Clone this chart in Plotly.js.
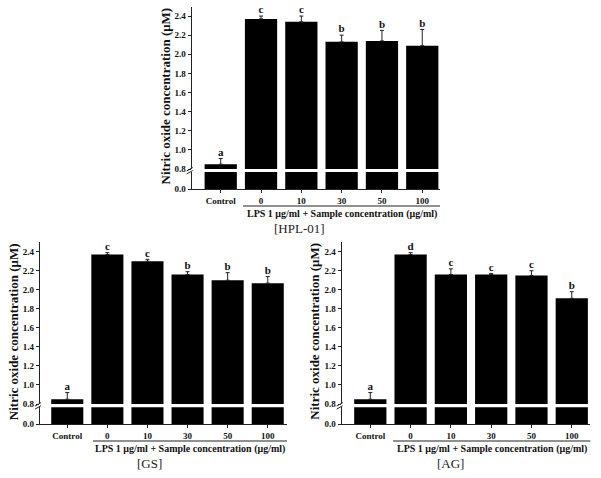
<!DOCTYPE html>
<html><head><meta charset="utf-8">
<script src="https://cdn.plot.ly/plotly-3.0.1.min.js"></script>
<style>html,body{margin:0;padding:0;background:#fff}#c{width:601px;height:478px}</style>
</head><body><div id="c"></div>
<script>
const categories = ['Control','0','10','30','50','100'];
const hplMean = [0.85, 2.37, 2.34, 2.13, 2.14, 2.09];
const hplErr  = [0.06, 0.03, 0.06, 0.07, 0.11, 0.17];
const hplLetters = ['a','c','c','b','b','b'];
const gsMean = [0.85, 2.37, 2.30, 2.16, 2.10, 2.07];
const gsErr  = [0.07, 0.02, 0.02, 0.03, 0.08, 0.07];
const gsLetters = ['a','c','c','b','b','b'];
const agMean = [0.85, 2.37, 2.16, 2.16, 2.15, 1.91];
const agErr  = [0.07, 0.02, 0.06, 0.01, 0.05, 0.07];
const agLetters = ['a','d','c','c','c','b'];
const panelLabels = ['[HPL-01]','[GS]','[AG]'];
const yTitle = 'Nitric oxide concentration (\u03bcM)';
const xGroupTitle = 'LPS 1 \u03bcg/ml + Sample concentration (\u03bcg/ml)';
const upperTicks = [0.8,1.0,1.2,1.4,1.6,1.8,2.0,2.2,2.4];

const W = 601, H = 478;
const px = v => v / W, py = v => 1 - v / H;
const SERIF = 'Liberation Serif, Times New Roman, serif';
const tf = {family: SERIF, size: 9, color: '#111', weight: 'bold'};

// panel geometry in pixels
const panels = [
  {mean: hplMean, err: hplErr, letters: hplLetters, label: panelLabels[0],
   x0: 191.7, x1: 440, yTop: 6.5, yBrkU: 169, yBrkL: 172, yBot: 189, r0: -0.72, r1: 5.44,
   titleX: 165, titleY: 96.5, lineY: 206, lineX0: 243, lpsY: 214.3, labelX: 299, labelY: 228.3},
  {mean: gsMean, err: gsErr, letters: gsLetters, label: panelLabels[1],
   x0: 40, x1: 287, yTop: 242.2, yBrkU: 404, yBrkL: 407.3, yBot: 424, r0: -0.68, r1: 5.48,
   titleX: 13.5, titleY: 331.7, lineY: 441, lineX0: 93, lpsY: 449.3, labelX: 149.5, labelY: 463.5},
  {mean: agMean, err: agErr, letters: agLetters, label: panelLabels[2],
   x0: 341.7, x1: 590.3, yTop: 242.2, yBrkU: 404, yBrkL: 407.3, yBot: 424, r0: -0.71, r1: 5.46,
   titleX: 315, titleY: 331.7, lineY: 441, lineX0: 393, lpsY: 449.3, labelX: 450, labelY: 463.5}
];

const data = [];
const layout = {
  width: W, height: H, margin: {l:0, r:0, t:0, b:0},
  paper_bgcolor: '#fff', plot_bgcolor: 'rgba(0,0,0,0)',
  showlegend: false, bargap: 0.2,
  annotations: [], shapes: []
};

panels.forEach((p, i) => {
  const xs = i === 0 ? '' : String(i + 1);
  const yu = String(2 * i + 1), yl = String(2 * i + 2);
  const xName = 'x' + xs, yuName = 'y' + (yu === '1' ? '' : yu), ylName = 'y' + yl;
  const xKey = 'xaxis' + xs, yuKey = 'yaxis' + (yu === '1' ? '' : yu), ylKey = 'yaxis' + yl;

  data.push({type: 'bar', x: categories, y: p.mean, xaxis: xName, yaxis: yuName,
    marker: {color: '#000', line: {width: 0}}, width: 0.8,
    error_y: {type: 'data', array: p.err, arrayminus: p.err.map(() => 0), symmetric: false,
      color: '#222', thickness: 1, width: 2}, hoverinfo: 'skip'});
  data.push({type: 'bar', x: categories, y: p.mean, xaxis: xName, yaxis: ylName,
    marker: {color: '#000', line: {width: 0}}, width: 0.8, hoverinfo: 'skip'});
  data.push({type: 'scatter', mode: 'text', x: categories, y: p.mean.map((m, k) => m + p.err[k]),
    text: p.letters, textposition: 'top center', cliponaxis: false,
    textfont: {family: SERIF, size: 11, color: '#111', weight: 'bold'},
    xaxis: xName, yaxis: yuName, hoverinfo: 'skip'});

  layout[xKey] = {type: 'category', domain: [px(p.x0), px(p.x1)], range: [p.r0, p.r1],
    anchor: ylName, showline: true, linecolor: '#222', linewidth: 1.2,
    ticks: 'outside', ticklen: 3, tickcolor: '#222', tickfont: tf, showgrid: false, zeroline: false,
    fixedrange: true};
  layout[yuKey] = {domain: [py(p.yBrkU), py(p.yTop)], range: [0.8, 2.5], anchor: xName,
    tickvals: upperTicks, tickformat: '.1f', showline: true, linecolor: '#222', linewidth: 1.2,
    ticks: 'outside', ticklen: 3, tickcolor: '#222', tickfont: tf, showgrid: false, zeroline: false,
    fixedrange: true};
  layout[ylKey] = {domain: [py(p.yBot), py(p.yBrkL)], range: [0, 0.78], anchor: xName,
    tickvals: [0], tickformat: '.1f', showline: true, linecolor: '#222', linewidth: 1.2,
    ticks: 'outside', ticklen: 3, tickcolor: '#222', tickfont: tf, showgrid: false, zeroline: false,
    fixedrange: true};

  layout.annotations.push({xref: 'paper', yref: 'paper', x: px(p.titleX), y: py(p.titleY),
    text: '<b>' + yTitle + '</b>', textangle: -90, showarrow: false, xanchor: 'center', yanchor: 'middle',
    font: {family: SERIF, size: 13, color: '#111'}});
  layout.annotations.push({xref: 'paper', yref: 'paper', x: px((p.lineX0 + p.x1) / 2), y: py(p.lpsY),
    text: '<b>' + xGroupTitle + '</b>', showarrow: false, xanchor: 'center', yanchor: 'middle',
    font: {family: SERIF, size: 10, color: '#111'}});
  layout.annotations.push({xref: 'paper', yref: 'paper', x: px(p.labelX), y: py(p.labelY),
    text: p.label, showarrow: false, xanchor: 'center', yanchor: 'middle',
    font: {family: SERIF, size: 13, color: '#222'}});

  layout.shapes.push({type: 'line', xref: 'paper', yref: 'paper',
    x0: px(p.lineX0), x1: px(p.x1), y0: py(p.lineY), y1: py(p.lineY), line: {color: '#222', width: 1.2}});
  const yc = (p.yBrkU + p.yBrkL) / 2;
  layout.shapes.push({type: 'line', xref: 'paper', yref: 'paper',
    x0: px(p.x0 - 5), x1: px(p.x0 + 1), y0: py(yc + 0.5), y1: py(yc - 3), line: {color: '#222', width: 1}});
  layout.shapes.push({type: 'line', xref: 'paper', yref: 'paper',
    x0: px(p.x0 - 5), x1: px(p.x0 + 1), y0: py(yc + 3.5), y1: py(yc), line: {color: '#222', width: 1}});
});

Plotly.newPlot('c', data, layout, {staticPlot: true});
</script></body></html>
